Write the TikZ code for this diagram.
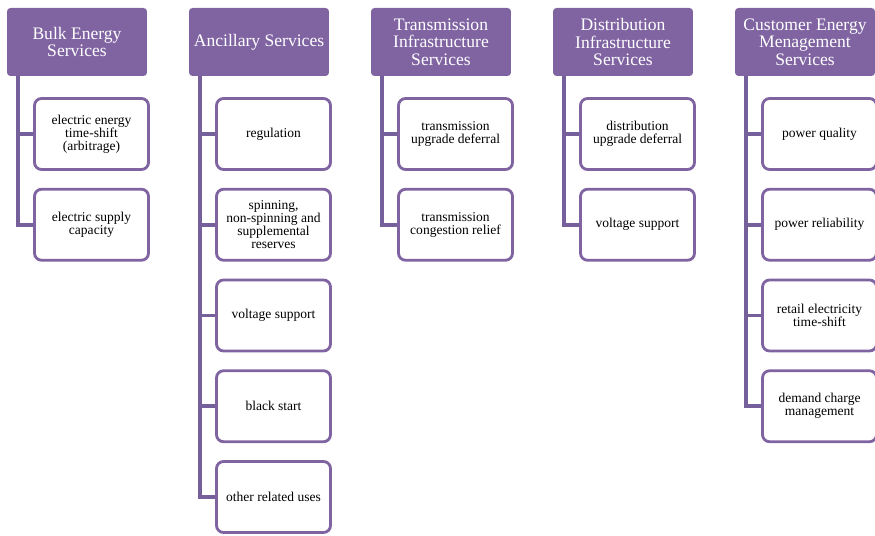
\documentclass[tikz,border=0pt]{standalone}
\usepackage{fontspec}
\setmainfont{Liberation Serif}
\usetikzlibrary{positioning}
\definecolor{mypurple}{RGB}{128,100,162}
\definecolor{mydarkpurple}{RGB}{118,96,156}

\begin{document}
\begin{tikzpicture}[x=0.02cm,y=-0.02cm,
	headnode/.style={fill=mypurple,rounded corners=2pt,minimum width=2.8cm,minimum height=1.36cm,
		text=white,align=center,inner sep=1pt,font=\fontsize{10}{10}\selectfont},
	usenode/.style={draw=mypurple,line width=1.6pt,fill=white,rounded corners=4pt,
		minimum width=2.28cm,minimum height=1.42cm,align=center,inner sep=1pt,
		font=\fontsize{7.7}{7.4}\selectfont},
	trunk/.style={draw=mydarkpurple,line width=2pt},
	]
	\useasboundingbox (0,0) rectangle (875,536);
	
	% the header boxes
	\foreach \k/\title in {1/{Bulk Energy\\Services},2/{Ancillary Services},
		3/{Transmission\\Infrastructure\\Services},4/{Distribution\\Infrastructure\\Services},
		5/{Customer Energy\\Menagement\\Services}}
	{
		\node[headnode] (h\k) at (77+182*\k-182,42) {\title};
		\coordinate (t\k) at (18+182*\k-182,76);
	}
	
	% bulk energy services
	\foreach \title [count=\i] in {{electric energy\\time-shift\\(arbitrage)},{electric supply\\capacity}}
	\node[usenode] (b\i) at (91.5,43.25+90.75*\i) {\title};
	
	% ancillary services
	\foreach \title [count=\i] in {{regulation},{spinning,\\non-spinning and\\supplemental\\reserves},
		{voltage support},{black start},{other related uses}}
	\node[usenode] (a\i) at (273.5,43.25+90.75*\i) {\title};
	
	% transmission
	\foreach \title [count=\i] in {{transmission\\upgrade deferral},{transmission\\congestion relief}}
	\node[usenode] (tr\i) at (455.5,43.25+90.75*\i) {\title};
	
	% distribution
	\foreach \title [count=\i] in {{distribution\\upgrade deferral},{voltage support}}
	\node[usenode] (d\i) at (637.5,43.25+90.75*\i) {\title};
	
	% customer energy management
	\foreach \title [count=\i] in {{power quality},{power reliability},
		{retail electricity\\time-shift},{demand charge\\management}}
	\node[usenode] (c\i) at (819.5,43.25+90.75*\i) {\title};
	
	% trunk lines
	\foreach \i in {1,2}
	\draw[trunk] (t1) |- (b\i.west);
	\foreach \i in {1,...,5}
	\draw[trunk] (t2) |- (a\i.west);
	\foreach \i in {1,2}
	\draw[trunk] (t3) |- (tr\i.west);
	\foreach \i in {1,2}
	\draw[trunk] (t4) |- (d\i.west);
	\foreach \i in {1,...,4}
	\draw[trunk] (t5) |- (c\i.west);
	
\end{tikzpicture}
\end{document}
